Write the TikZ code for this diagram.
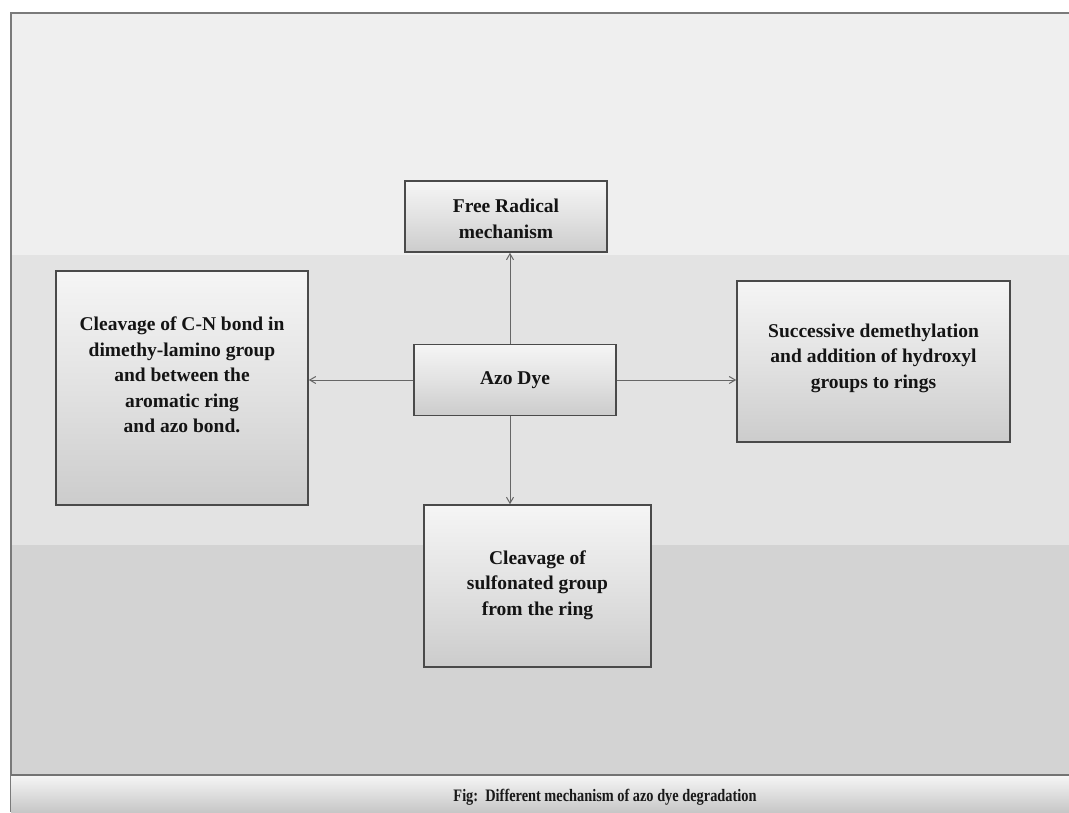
\documentclass[tikz,border=0pt]{standalone}
\usepackage{fontspec}
\setmainfont{Liberation Serif}
\usetikzlibrary{arrows.meta,calc}
\definecolor{bandA}{HTML}{EFEFEF}
\definecolor{bandB}{HTML}{E3E3E3}
\definecolor{bandC}{HTML}{D3D3D3}
\definecolor{frameC}{HTML}{7A7A7A}
\definecolor{boxline}{HTML}{4A4A4A}
\definecolor{boxtop}{HTML}{F5F5F5}
\definecolor{boxmid}{HTML}{E2E2E2}
\definecolor{boxbot}{HTML}{CCCCCC}
\tikzset{
  mechbox/.style={draw=boxline, line width=1.6pt, top color=boxtop, bottom color=boxbot, middle color=boxmid, shading angle=0,
    inner sep=0pt},
  boxtext/.style={align=center, font=\bfseries\fontsize{19.5}{25.5}\selectfont, text=black!92},
  arr/.style={-{Straight Barb[length=6pt,width=7pt]}, draw=black!60, line width=1pt}
}
\begin{document}
\begin{tikzpicture}[x=1pt,y=-1pt]
\useasboundingbox (0,0) rectangle (1069,812);
\fill[white] (0,0) rectangle (1069,812);
% background bands
\fill[bandA] (11,13) rectangle (1069,255);
\fill[bandB] (11,255) rectangle (1069,545);
\fill[bandC] (11,545) rectangle (1069,775);
\draw[frameC, line width=2pt] (1069,13) -- (11,13) -- (11,812);
% caption bar
\shade[top color=white!96!black, bottom color=black!22] (11,776) rectangle (1069,812);
\draw[black!55, line width=2pt] (11,775) -- (1069,775);
\node[font=\bfseries\fontsize{17.5}{19}\selectfont, text=black!90] (cap) at (605,797) {\scalebox{0.82}[1]{Fig:\ \ Different mechanism of azo dye degradation}};
% boxes
\node[mechbox, minimum width=202pt, minimum height=71pt] (fr) at (506,216.5) {};
\node[boxtext] (frt) at (506,219) {Free Radical\\mechanism};
\node[mechbox, minimum width=202pt, minimum height=71pt] (azo) at (515,380) {};
\node[boxtext] (azot) at (515,380) {Azo Dye};
\node[mechbox, minimum width=252pt, minimum height=234pt] (lb) at (182,388) {};
\node[boxtext] (lbt) at (182,375) {Cleavage of C-N bond in\\dimethy-lamino group\\and between the\\aromatic ring\\and azo bond.};
\node[mechbox, minimum width=273pt, minimum height=161pt] (rb) at (873.5,361.5) {};
\node[boxtext] (rbt) at (873.5,358) {Successive demethylation\\and addition of hydroxyl\\groups to rings};
\node[mechbox, minimum width=227pt, minimum height=162pt] (bb) at (537.5,586) {};
\node[boxtext] (bbt) at (537.5,585) {Cleavage of\\sulfonated group\\from the ring};
% connectors
\draw[arr] ([xshift=-5pt]azo.north) -- ([xshift=-5pt]azo.north |- fr.south);
\draw[arr] ([xshift=-5pt]azo.south) -- ([xshift=-5pt]azo.south |- bb.north);
\draw[arr] (azo.west) -- (azo.west -| lb.east);
\draw[arr] (azo.east) -- (azo.east -| rb.west);
\end{tikzpicture}
\end{document}
